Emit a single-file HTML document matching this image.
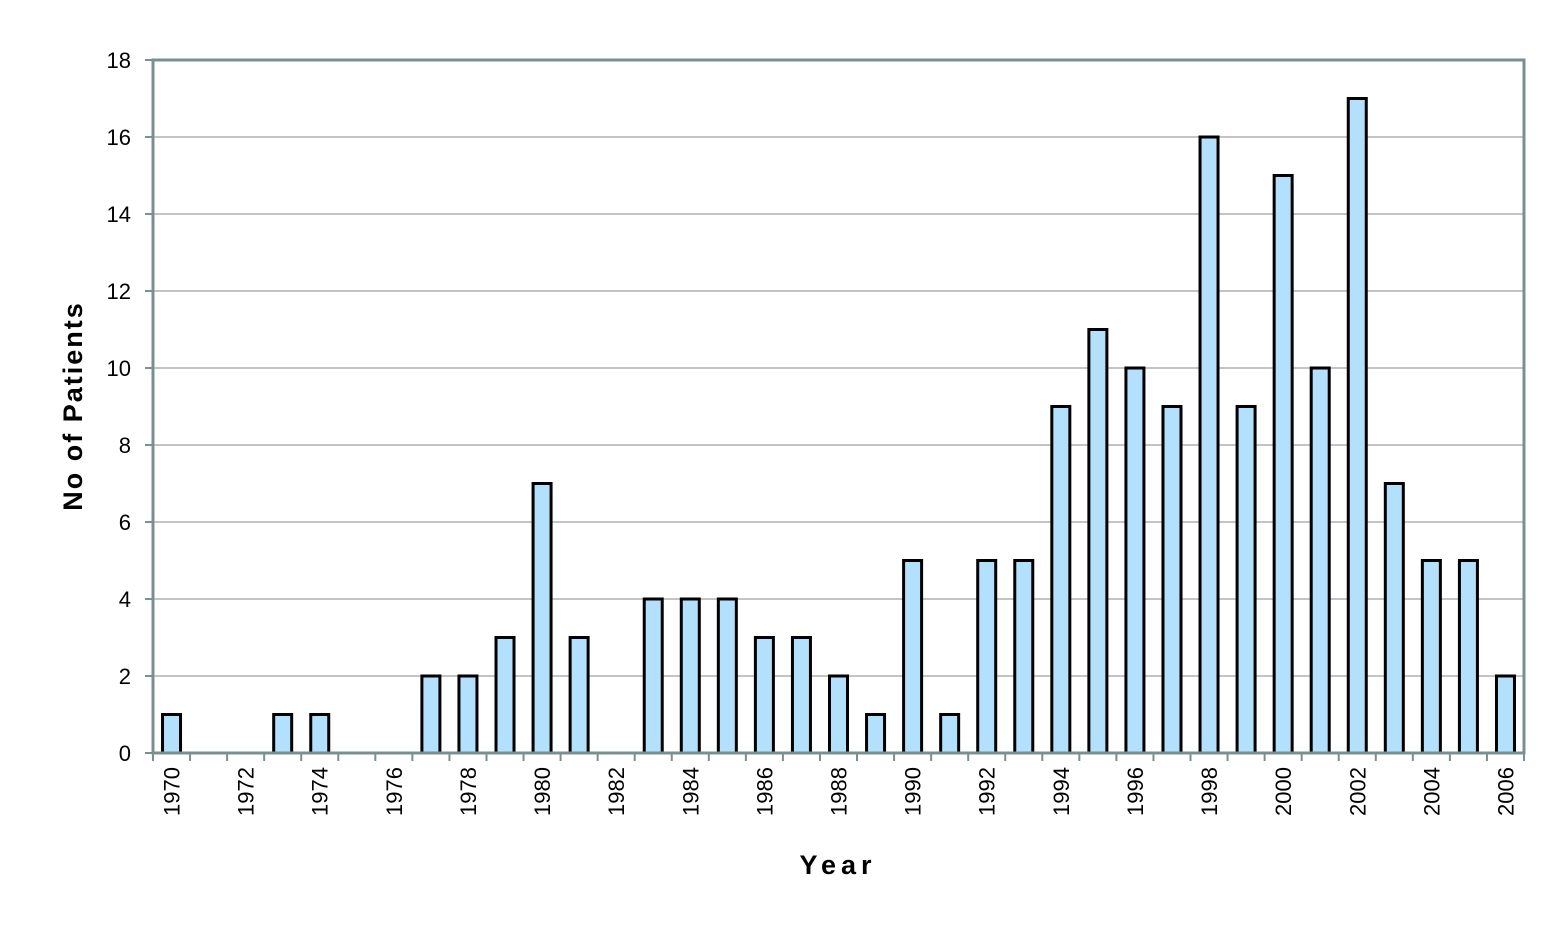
<!DOCTYPE html>
<html><head><meta charset="utf-8"><style>
body{margin:0;background:#fff;}
svg text{font-family:"Liberation Sans",sans-serif;fill:#000;}
</style></head><body>
<svg width="1562" height="926">
<g id="grid"></g>
<g id="bars"></g>
<rect x="153" y="60" width="1371" height="693" fill="none" stroke="#7a8f8f" stroke-width="3"/>
<g id="axes"></g>
<text x="82" y="406" font-size="27" font-weight="bold" text-anchor="middle" letter-spacing="2" transform="rotate(-90 82 406)">No of Patients</text>
<text x="838" y="874" font-size="27" font-weight="bold" text-anchor="middle" letter-spacing="5">Year</text>
</svg>
<script>
const years=[1970,1971,1972,1973,1974,1975,1976,1977,1978,1979,1980,1981,1982,1983,1984,1985,1986,1987,1988,1989,1990,1991,1992,1993,1994,1995,1996,1997,1998,1999,2000,2001,2002,2003,2004,2005,2006];
const patients=[1,0,0,1,1,0,0,2,2,3,7,3,0,4,4,4,3,3,2,1,5,1,5,5,9,11,10,9,16,9,15,10,17,7,5,5,2];
const yTicks=[0,2,4,6,8,10,12,14,16,18];
const L=153,R=1524,T=60,B=753,yMax=18;
const bw=(R-L)/years.length;
const y=v=>B-(v/yMax)*(B-T);
const x=i=>L+bw*i;
const NS="http://www.w3.org/2000/svg";
const grid=document.getElementById('grid'),bars=document.getElementById('bars'),axes=document.getElementById('axes');
function mk(tag,attrs,parent){const e=document.createElementNS(NS,tag);for(const k in attrs)e.setAttribute(k,attrs[k]);parent.appendChild(e);return e;}
yTicks.forEach(t=>{
  if(t>0&&t<yMax){const g=mk('line',{x1:L,x2:R,y1:y(t),y2:y(t),stroke:'#a0a0a0','stroke-width':1.2},grid);
  
  }
  const tk=mk('line',{x1:L-8,x2:L,y1:y(t),y2:y(t),stroke:'#7a8f8f','stroke-width':2},axes);
  
  
  const lb=mk('text',{x:L-22,y:y(t)+8,'font-size':22,'text-anchor':'end'},axes);
  lb.textContent=t;
  
  
});
years.forEach((yr,i)=>{
  const v=patients[i];
  if(v>0){const r=mk('rect',{x:x(i)+bw/2-9,y:y(v),width:18,height:B-y(v),fill:'#b3e0fc',stroke:'#000','stroke-width':3},bars);
  
  }
  const tk=mk('line',{x1:x(i),x2:x(i),y1:B,y2:B+8,stroke:'#7a8f8f','stroke-width':2},axes);
  
  
  if(i%2===0){const cx=x(i)+bw/2+8,cy=767;
  const lb=mk('text',{x:cx,y:cy,'font-size':22,'text-anchor':'end',transform:`rotate(-90 ${cx} ${cy})`},axes);
  lb.textContent=yr;
  
  }
});
const lt=mk('line',{x1:R,x2:R,y1:B,y2:B+8,stroke:'#7a8f8f','stroke-width':2},axes);


</script>
</body></html>
